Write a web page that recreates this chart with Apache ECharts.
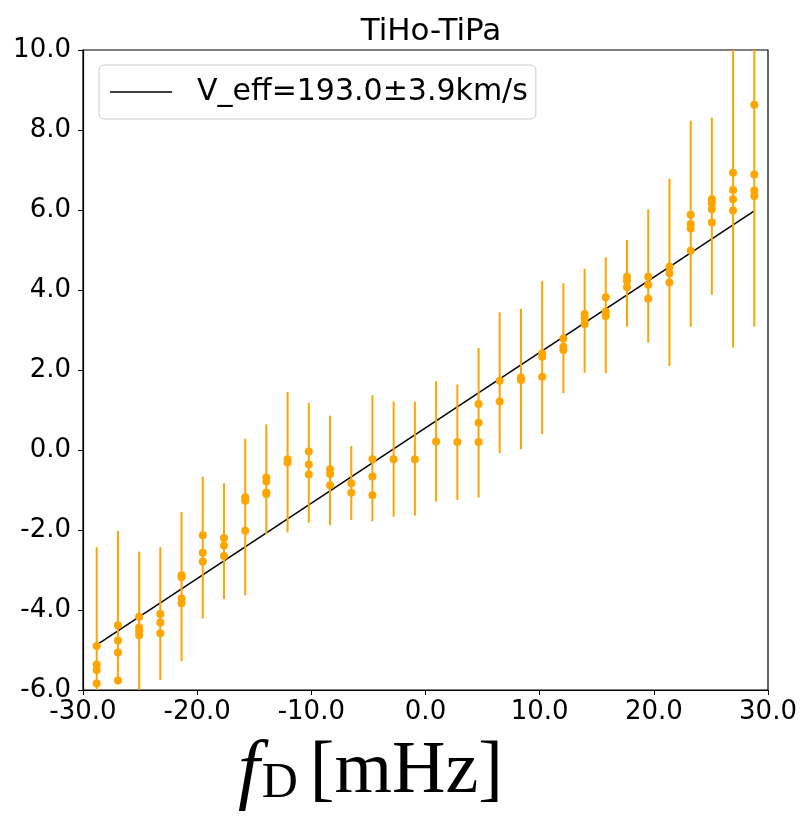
<!DOCTYPE html>
<html>
<head>
<meta charset="utf-8">
<script src="https://cdn.jsdelivr.net/npm/echarts@6/dist/echarts.min.js"></script>
<style>
  html, body { margin: 0; padding: 0; background: #fff; }
  #chart { width: 803px; height: 817px; }
</style>
</head>
<body>
<div id="chart"></div>
<script>
// Doppler frequency bins (mHz)
const fD = [-28.80, -26.94, -25.08, -23.23, -21.37, -19.51, -17.65, -15.79, -13.94, -12.08, -10.22,
            -8.36, -6.50, -4.65, -2.79, -0.93, 0.93, 2.79, 4.65, 6.50, 8.36, 10.22,
            12.08, 13.94, 15.79, 17.65, 19.51, 21.37, 23.23, 25.08, 26.94, 28.80];
// visible extent of the error bars per bin
const errLow = [-8.3, -5.85, -7.0, -5.75, -5.28, -4.21, -3.73, -3.63, -2.10, -2.06, -1.82,
                -1.88, -1.75, -1.78, -1.67, -1.64, -1.29, -1.25, -1.19, -0.08, 0.02, 0.40,
                1.42, 1.93, 1.92, 3.08, 2.68, 2.10, 3.08, 3.88, 2.56, 3.08];
const errHigh = [-2.43, -2.02, -2.54, -2.43, -1.55, -0.67, -0.83, 0.28, 0.64, 1.45, 1.18,
                 0.86, 0.10, 1.37, 1.21, 1.21, 1.72, 1.64, 2.55, 3.44, 3.53, 4.23,
                 4.17, 4.53, 4.82, 5.25, 6.02, 6.78, 8.23, 8.31, 11.3, 11.2];
// measured points per bin
const pointValues = [
  [-4.90, -5.36, -5.50, -5.84],
  [-4.38, -4.76, -5.06, -5.76],
  [-4.17, -4.44, -4.53, -4.63],
  [-4.10, -4.31, -4.58],
  [-3.13, -3.18, -3.71, -3.83],
  [-2.13, -2.57, -2.79],
  [-2.20, -2.39, -2.65],
  [-1.18, -1.27, -2.02],
  [-0.69, -0.79, -1.06, -1.10],
  [-0.23, -0.31],
  [-0.04, -0.36, -0.61],
  [-0.48, -0.60, -0.88],
  [-0.83, -1.07],
  [-0.23, -0.66, -1.13],
  [-0.23],
  [-0.23],
  [0.21],
  [0.20],
  [1.15, 0.68, 0.20],
  [1.73, 1.21],
  [1.81, 1.75],
  [2.42, 2.33, 1.83],
  [2.79, 2.58, 2.50],
  [3.40, 3.29, 3.15],
  [3.82, 3.46, 3.35],
  [4.33, 4.23, 4.07],
  [4.33, 4.13, 3.78],
  [4.58, 4.42, 4.19],
  [5.88, 5.65, 5.54, 4.98],
  [6.27, 6.17, 6.02, 5.69],
  [6.93, 6.50, 6.27, 5.99],
  [8.63, 6.89, 6.49, 6.35]
];
// fitted line end points
const fitX = [-28.8, 28.8];
const fitY = [-4.87, 5.98];
const fitName = 'V_eff=193.0\u00b13.9km/s';
const titleText = 'TiHo-TiPa';

const ORANGE = '#FFA500';
const SANS = 'DejaVu Sans';

const errData = fD.map((x, i) => [x, errLow[i], errHigh[i]]);
const scatterData = [];
fD.forEach((x, i) => pointValues[i].forEach(v => scatterData.push([x, v])));
const fitData = fitX.map((x, i) => [x, fitY[i]]);

const chart = echarts.init(document.getElementById('chart'), null, { renderer: 'canvas' });
chart.setOption({
  animation: false,
  backgroundColor: '#fff',
  title: {
    text: titleText,
    left: 426, top: 11, textAlign: 'center',
    textStyle: { fontFamily: SANS, fontSize: 31, fontWeight: 'normal', color: '#000' }
  },
  legend: {
    left: 99, top: 65,
    data: [{ name: fitName, icon: 'rect' }],
    itemWidth: 62, itemHeight: 1.6,
    itemStyle: { color: '#000' },
    padding: [12, 8, 12, 11],
    borderColor: '#cccccc', borderWidth: 1, borderRadius: 5,
    backgroundColor: 'rgba(255,255,255,0.8)',
    textStyle: { fontFamily: SANS, fontSize: 30, color: '#000', padding: [0, 0, 0, 20] }
  },
  grid: {
    left: 83, right: 35, top: 50, bottom: 126,
    show: true, borderColor: '#000', borderWidth: 1.2, backgroundColor: 'transparent'
  },
  xAxis: {
    type: 'value', min: -30, max: 30, interval: 10,
    axisLine: { show: true, onZero: false, lineStyle: { color: '#000', width: 1.2 } },
    axisTick: { show: true, inside: false, length: 5, lineStyle: { color: '#000' } },
    splitLine: { show: false },
    axisLabel: { fontFamily: SANS, fontSize: 26, color: '#000', margin: 9,
                 formatter: v => v.toFixed(1) },
    name: '{f|f}{sub|D}{n|[mHz]}',
    nameLocation: 'middle',
    nameGap: 40,
    nameTextStyle: {
      padding: [0, 110, 0, 0],
      rich: {
        f: { fontFamily: 'Liberation Serif', fontStyle: 'italic', fontSize: 78, color: '#000', lineHeight: 86 },
        sub: { fontFamily: 'Liberation Serif', fontSize: 50, color: '#000', lineHeight: 86, padding: [22, 12, 0, 2] },
        n: { fontFamily: 'Liberation Serif', fontSize: 74, color: '#000', lineHeight: 86 }
      }
    }
  },
  yAxis: {
    type: 'value', min: -6, max: 10, interval: 2,
    axisLine: { show: true, onZero: false, lineStyle: { color: '#000', width: 1.2 } },
    axisTick: { show: true, inside: false, length: 5, lineStyle: { color: '#000' } },
    splitLine: { show: false },
    axisLabel: { fontFamily: SANS, fontSize: 26, color: '#000', margin: 12,
                 formatter: v => v.toFixed(1) }
  },
  series: [
    {
      name: fitName,
      type: 'line',
      data: fitData,
      symbol: 'none',
      lineStyle: { color: '#000', width: 1.5 },
      itemStyle: { color: '#000' },
      z: 1
    },
    {
      name: 'err',
      type: 'custom',
      clip: true,
      data: errData,
      encode: { x: 0, y: [1, 2] },
      renderItem: function (params, api) {
        const p1 = api.coord([api.value(0), api.value(1)]);
        const p2 = api.coord([api.value(0), api.value(2)]);
        return {
          type: 'line',
          shape: { x1: p1[0], y1: p1[1], x2: p2[0], y2: p2[1] },
          style: { stroke: ORANGE, lineWidth: 2 }
        };
      },
      z: 2
    },
    {
      name: 'points',
      type: 'scatter',
      data: scatterData,
      symbol: 'circle',
      symbolSize: 8,
      itemStyle: { color: ORANGE, opacity: 1 },
      clip: true,
      z: 3
    }
  ]
});
</script>
</body>
</html>
